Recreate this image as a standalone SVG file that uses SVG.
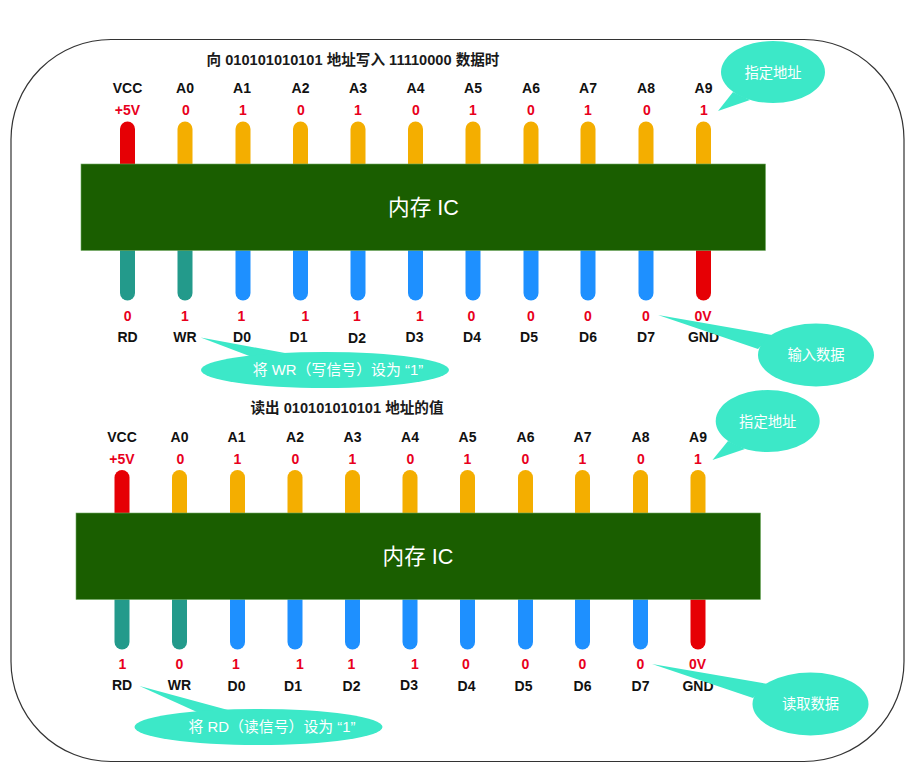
<svg xmlns="http://www.w3.org/2000/svg" width="905" height="771" viewBox="0 0 905 771">
<style>
text{font-family:"Liberation Sans","Noto Sans CJK SC",sans-serif;text-anchor:middle;dominant-baseline:central}
.n{font-size:14px;font-weight:700;fill:#111}
.v{font-size:14px;font-weight:700;fill:#e8001c}
.t{font-size:14.6px;font-weight:700;fill:#1a1a1a}
.c{font-size:14.3px;fill:#fff}
.w{font-size:14.9px;fill:#fff}
.i{font-size:21.6px;fill:#fff}
.chip{fill:#1a5e00;stroke:#6fa860;stroke-width:.6}
.bub{fill:#3ce8c8}
.r{fill:#e60005}.o{fill:#f4ae00}.g{fill:#239a8b}.b{fill:#1e90ff}
</style>
<defs>
<path id="up" d="M-7.5 43V7.5a7.5 7.5 0 0 1 15 0V43z"/>
<path id="dn" d="M-7.5 0V43a7.5 7.5 0 0 0 15 0V0z"/>
</defs>
<rect id="frame" x="11" y="39.5" width="893" height="722" rx="100" ry="100" fill="#fff" stroke="#333" stroke-width="1.2"/>
<g id="write">
<text class="t" x="353" y="60">向 010101010101 地址写入 11110000 数据时</text>
<g id="write-pins">
<use href="#up" class="r" x="127.5" y="121.5"/><use href="#up" class="o" x="185" y="121.5"/><use href="#up" class="o" x="243" y="121.5"/><use href="#up" class="o" x="300.5" y="121.5"/><use href="#up" class="o" x="358" y="121.5"/><use href="#up" class="o" x="415.5" y="121.5"/><use href="#up" class="o" x="473" y="121.5"/><use href="#up" class="o" x="531" y="121.5"/><use href="#up" class="o" x="588" y="121.5"/><use href="#up" class="o" x="646" y="121.5"/><use href="#up" class="o" x="703.5" y="121.5"/>
<use href="#dn" class="g" x="127.5" y="250"/><use href="#dn" class="g" x="185" y="250"/><use href="#dn" class="b" x="243" y="250"/><use href="#dn" class="b" x="300.5" y="250"/><use href="#dn" class="b" x="358" y="250"/><use href="#dn" class="b" x="415.5" y="250"/><use href="#dn" class="b" x="473" y="250"/><use href="#dn" class="b" x="531" y="250"/><use href="#dn" class="b" x="588" y="250"/><use href="#dn" class="b" x="646" y="250"/><use href="#dn" class="r" x="703.5" y="250"/>
</g>
<g id="chip1"><rect class="chip" x="81" y="164" width="684.5" height="86.5"/><text class="i" x="423.5" y="207">内存 IC</text></g>
<text class="n" x="127.5" y="88">VCC</text><text class="n" x="185" y="88">A0</text><text class="n" x="242" y="88">A1</text><text class="n" x="300.5" y="88">A2</text><text class="n" x="358" y="88">A3</text><text class="n" x="415.5" y="88">A4</text><text class="n" x="473" y="88">A5</text><text class="n" x="531" y="88">A6</text><text class="n" x="588" y="88">A7</text><text class="n" x="646" y="88">A8</text><text class="n" x="703.5" y="88">A9</text>
<text class="v" x="127.5" y="110">+5V</text><text class="v" x="186" y="110">0</text><text class="v" x="243" y="110">1</text><text class="v" x="301" y="110">0</text><text class="v" x="358" y="110">1</text><text class="v" x="416" y="110">0</text><text class="v" x="473" y="110">1</text><text class="v" x="531" y="110">0</text><text class="v" x="588" y="110">1</text><text class="v" x="647" y="110">0</text><text class="v" x="704" y="110">1</text>
<text class="v" x="127.7" y="315.5">0</text><text class="v" x="185" y="315.5">1</text><text class="v" x="241.5" y="315.5">1</text><text class="v" x="305.5" y="315.5">1</text><text class="v" x="357" y="315.5">1</text><text class="v" x="420" y="315.5">1</text><text class="v" x="471.5" y="315.5">0</text><text class="v" x="531" y="315.5">0</text><text class="v" x="588" y="315.5">0</text><text class="v" x="646" y="315.5">0</text><text class="v" x="703" y="315.5">0V</text>
<text class="n" x="127.5" y="336.5">RD</text><text class="n" x="185" y="336.5">WR</text><text class="n" x="242" y="337">D0</text><text class="n" x="298.5" y="336.5">D1</text><text class="n" x="357" y="337.5">D2</text><text class="n" x="414.5" y="336.5">D3</text><text class="n" x="472" y="337">D4</text><text class="n" x="529" y="337">D5</text><text class="n" x="588" y="337">D6</text><text class="n" x="646" y="337">D7</text><text class="n" x="703.5" y="337">GND</text>
</g>
<g id="read">
<text class="t" x="347" y="408">读出 010101010101 地址的值</text>
<g id="read-pins">
<use href="#up" class="r" x="122" y="470"/><use href="#up" class="o" x="179.5" y="470"/><use href="#up" class="o" x="237.5" y="470"/><use href="#up" class="o" x="295" y="470"/><use href="#up" class="o" x="352.5" y="470"/><use href="#up" class="o" x="410" y="470"/><use href="#up" class="o" x="467.5" y="470"/><use href="#up" class="o" x="525.5" y="470"/><use href="#up" class="o" x="582.5" y="470"/><use href="#up" class="o" x="640.5" y="470"/><use href="#up" class="o" x="698" y="470"/>
<use href="#dn" class="g" x="122" y="599"/><use href="#dn" class="g" x="179.5" y="599"/><use href="#dn" class="b" x="237.5" y="599"/><use href="#dn" class="b" x="295" y="599"/><use href="#dn" class="b" x="352.5" y="599"/><use href="#dn" class="b" x="410" y="599"/><use href="#dn" class="b" x="467.5" y="599"/><use href="#dn" class="b" x="525.5" y="599"/><use href="#dn" class="b" x="582.5" y="599"/><use href="#dn" class="b" x="640.5" y="599"/><use href="#dn" class="r" x="698" y="599"/>
</g>
<g id="chip2"><rect class="chip" x="76" y="513" width="684.5" height="86.5"/><text class="i" x="418" y="556">内存 IC</text></g>
<text class="n" x="122" y="437">VCC</text><text class="n" x="179.5" y="437">A0</text><text class="n" x="236.5" y="437">A1</text><text class="n" x="295" y="437">A2</text><text class="n" x="352.5" y="437">A3</text><text class="n" x="410" y="437">A4</text><text class="n" x="467.5" y="437">A5</text><text class="n" x="525.5" y="437">A6</text><text class="n" x="582.5" y="437">A7</text><text class="n" x="640.5" y="437">A8</text><text class="n" x="698" y="437">A9</text>
<text class="v" x="122" y="459">+5V</text><text class="v" x="180.5" y="459">0</text><text class="v" x="237.5" y="459">1</text><text class="v" x="295.5" y="459">0</text><text class="v" x="352.5" y="459">1</text><text class="v" x="410.5" y="459">0</text><text class="v" x="467.5" y="459">1</text><text class="v" x="525.5" y="459">0</text><text class="v" x="582.5" y="459">1</text><text class="v" x="641" y="459">0</text><text class="v" x="698" y="459">1</text>
<text class="v" x="122.5" y="664">1</text><text class="v" x="179.5" y="664">0</text><text class="v" x="236" y="664">1</text><text class="v" x="300" y="664">1</text><text class="v" x="351.5" y="664">1</text><text class="v" x="415" y="664">1</text><text class="v" x="466" y="664">0</text><text class="v" x="525.5" y="664">0</text><text class="v" x="582.5" y="664">0</text><text class="v" x="640.5" y="664">0</text><text class="v" x="697.5" y="664">0V</text>
<text class="n" x="122" y="685">RD</text><text class="n" x="179.5" y="685">WR</text><text class="n" x="236.5" y="686">D0</text><text class="n" x="293" y="685.5">D1</text><text class="n" x="351.5" y="686">D2</text><text class="n" x="409" y="685">D3</text><text class="n" x="466.5" y="685.5">D4</text><text class="n" x="523.5" y="685.5">D5</text><text class="n" x="582.5" y="685.5">D6</text><text class="n" x="640.5" y="685.5">D7</text><text class="n" x="698" y="685.5">GND</text>
</g>
<g id="callout-addr-1"><path class="bub" d="M718 111L733 92L750 100Z"/><ellipse class="bub" cx="773" cy="72" rx="52" ry="31"/><text class="c" x="773" y="73">指定地址</text></g>
<g id="callout-data-in"><path class="bub" d="M658 315L772 335L758 349Z"/><ellipse class="bub" cx="816" cy="355" rx="58" ry="31.5"/><text class="c" x="816" y="355">输入数据</text></g>
<g id="callout-wr"><path class="bub" d="M200.7 337.5L285 353L252 357Z"/><ellipse class="bub" cx="325" cy="370" rx="124" ry="18"/><text class="w" x="338" y="370">将 WR（写信号）设为 “1”</text></g>
<g id="callout-addr-2"><path class="bub" d="M712.5 460L728 441L745 449Z"/><ellipse class="bub" cx="767.7" cy="421" rx="52" ry="31"/><text class="c" x="767.7" y="422">指定地址</text></g>
<g id="callout-data-out"><path class="bub" d="M652 664L768 684L753 698Z"/><ellipse class="bub" cx="810.5" cy="704" rx="58" ry="31.5"/><text class="c" x="810.5" y="704">读取数据</text></g>
<g id="callout-rd"><path class="bub" d="M139.5 686L228 710L197 712Z"/><ellipse class="bub" cx="258.5" cy="727" rx="124" ry="18"/><text class="w" x="272" y="727">将 RD（读信号）设为 “1”</text></g>
</svg>
